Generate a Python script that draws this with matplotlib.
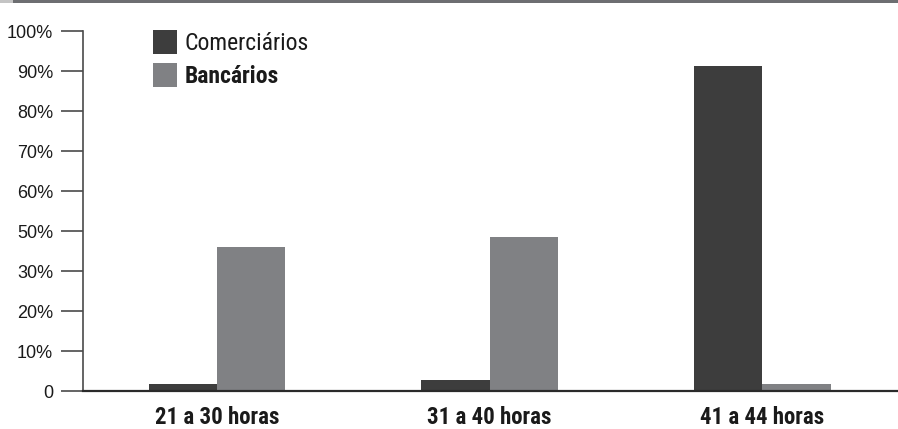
import matplotlib.pyplot as plt
import numpy as np
from matplotlib.patches import Rectangle

# jornada semanal por categoria
faixas = ['21 a 30 horas', '31 a 40 horas', '41 a 44 horas']
series = ['Comerciários', 'Bancários']
comerciarios = [1.75, 2.75, 81.25]
bancarios = [36.1, 38.5, 1.75]

# rótulos do eixo, como impressos na arte
y_ticks = [0, 10, 20, 30, 40, 50, 60, 70, 80, 90]
y_labels = ['0', '10%', '20%', '30%', '50%', '60%', '70%', '80%', '90%', '100%']

cores = ['#3d3d3d', '#808184']
cor_eixo = '#4a4a4a'
cond = ['Roboto Condensed', 'PT Sans Narrow', 'DejaVu Sans']

W, H = 898, 429
fig = plt.figure(figsize=(W / 100, H / 100), dpi=100)
ax = fig.add_axes([83 / W, 1 - 391 / H, (897 - 83) / W, (391 - 31) / H])

x = np.arange(len(faixas))
w = 0.251
ax.bar(x - w / 2, comerciarios, w, color=cores[0])
ax.bar(x + w / 2, bancarios, w, color=cores[1])

ax.set_xlim(-0.492, 2.495)
ax.set_ylim(0, 90)

for s in ['top', 'right']:
    ax.spines[s].set_visible(False)
ax.spines['left'].set_color(cor_eixo)
ax.spines['left'].set_linewidth(1.2)
ax.spines['bottom'].set_color('#2a2a2a')
ax.spines['bottom'].set_linewidth(1.6)

ax.set_yticks(y_ticks)
ax.set_yticklabels(y_labels, fontsize=13, family=['Liberation Sans', 'DejaVu Sans'], color='#1a1a1a')
ax.tick_params(axis='y', length=16, width=1.2, color=cor_eixo, pad=5.5)

ax.set_xticks(x)
ax.set_xticklabels(faixas, fontsize=16.5, fontweight='bold', family=cond, color='#1a1a1a')
ax.tick_params(axis='x', length=0, pad=10.5)

# legenda desenhada à mão: quadrado + texto
for i, (nome, cor) in enumerate(zip(series, cores)):
    topo = 30 + i * 33
    fig.add_artist(Rectangle((153 / W, 1 - (topo + 24) / H), 24 / W, 24 / H,
                             transform=fig.transFigure, color=cor, lw=0))
    fig.text(185 / W, 1 - (topo + 20) / H, nome, fontsize=17, family=cond,
             fontweight='bold' if i == 1 else 'normal', color='#1a1a1a',
             ha='left', va='baseline')

# faixa superior
fig.add_artist(Rectangle((0, 1 - 3 / H), 1, 3 / H, transform=fig.transFigure,
                         color='#6d6e71', lw=0))
fig.add_artist(Rectangle((0, 1 - 3 / H), 13 / W, 3 / H, transform=fig.transFigure,
                         color='#c4c4c4', lw=0))

fig.savefig('out.png', dpi=100)
